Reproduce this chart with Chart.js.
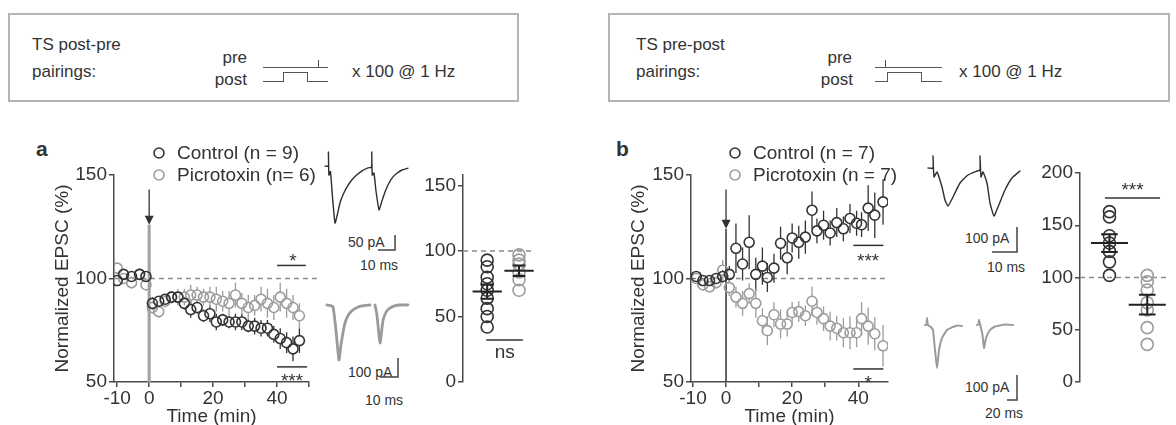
<!DOCTYPE html>
<html>
<head>
<meta charset="utf-8">
<title>TS pairings</title>
<script src="https://cdn.jsdelivr.net/npm/chart.js@4.4.1/dist/chart.umd.min.js"></script>
<style>
body { margin: 0; background: #fff; }
#fig { position: relative; width: 1176px; height: 425px; overflow: hidden; font-family: "Liberation Sans", Arial, sans-serif; color: #333; }
#fig div, #fig canvas { position: absolute; }
.box { border: 2px solid #b4b4b4; box-sizing: border-box; }
.t17 { font-size: 17px; line-height: 20px; white-space: nowrap; }
.t14 { font-size: 14px; line-height: 16px; white-space: nowrap; }
.r { text-align: right; }
.h { height: 0; border-top: 1.5px solid #555; }
.v { width: 0; border-left: 1.5px solid #555; }
.p { border: 1.5px solid #555; border-bottom: none; box-sizing: border-box; }
.lab { font-size: 21px; font-weight: bold; line-height: 24px; }
</style>
</head>
<body>
<div id="fig">
  <!-- pairing protocol boxes -->
  <div class="box" style="left:8px;top:13px;width:511px;height:89px"></div>
  <div class="t17" style="left:32px;top:35px">TS post-pre</div>
  <div class="t17" style="left:32px;top:62px">pairings:</div>
  <div class="t17 r" style="left:197px;top:48px;width:50px">pre</div>
  <div class="t17 r" style="left:197px;top:70px;width:50px">post</div>
  <div class="h" style="left:263px;top:67px;width:65px"></div>
  <div class="v" style="left:318px;top:60px;height:8px"></div>
  <div class="h" style="left:263px;top:81px;width:21px"></div>
  <div class="p" style="left:283px;top:72px;width:25px;height:10px"></div>
  <div class="h" style="left:307px;top:81px;width:21px"></div>
  <div class="t17" style="left:352px;top:62px">x 100 @ 1 Hz</div>

  <div class="box" style="left:608px;top:13px;width:562px;height:89px"></div>
  <div class="t17" style="left:636px;top:35px">TS pre-post</div>
  <div class="t17" style="left:636px;top:62px">pairings:</div>
  <div class="t17 r" style="left:802px;top:48px;width:50px">pre</div>
  <div class="t17 r" style="left:803px;top:70px;width:50px">post</div>
  <div class="h" style="left:875px;top:67px;width:67px"></div>
  <div class="v" style="left:885px;top:60px;height:8px"></div>
  <div class="h" style="left:875px;top:81px;width:13px"></div>
  <div class="p" style="left:887px;top:72px;width:35px;height:10px"></div>
  <div class="h" style="left:921px;top:81px;width:21px"></div>
  <div class="t17" style="left:959px;top:62px">x 100 @ 1 Hz</div>

  <div class="lab" style="left:36px;top:137px">a</div>
  <div class="lab" style="left:616px;top:137px">b</div>

  <!-- scale bar labels -->
  <div class="t14" style="left:348px;top:234px">50 pA</div>
  <div class="t14" style="left:360px;top:257px">10 ms</div>
  <div class="t14" style="left:348px;top:364px">100 pA</div>
  <div class="t14" style="left:365px;top:392px">10 ms</div>
  <div class="t14" style="left:965px;top:230px">100 pA</div>
  <div class="t14" style="left:987px;top:259px">10 ms</div>
  <div class="t14" style="left:965px;top:379px">100 pA</div>
  <div class="t14" style="left:985px;top:405px">20 ms</div>

  <canvas id="cA" width="330" height="315" style="left:0;top:110px"></canvas>
  <canvas id="sA" width="140" height="315" style="left:400px;top:110px"></canvas>
  <canvas id="cB" width="300" height="315" style="left:600px;top:110px"></canvas>
  <canvas id="sB" width="156" height="315" style="left:1020px;top:110px"></canvas>
  <canvas id="tA1" width="100" height="115" style="left:318px;top:140px"></canvas>
  <canvas id="tA2" width="100" height="92" style="left:318px;top:290px"></canvas>
  <canvas id="tB1" width="110" height="117" style="left:920px;top:140px"></canvas>
  <canvas id="tB2" width="115" height="105" style="left:915px;top:300px"></canvas>
</div>

<script>
const DARK = '#333333', LIGHT = '#9c9c9c', AXIS = '#4a4a4a';

// panel a, post-pre pairings (min, % of baseline)
const timeA = [-10, -8, -5.5, -3, -1, 1, 3, 5, 7, 9, 11, 13, 15, 17, 19, 21, 23, 25, 27, 29, 31, 33, 35, 37, 39, 41, 43, 45, 47];
const ctrlA = [99, 102, 101, 102, 101, 88, 89, 90, 91, 91, 88, 85, 86, 82, 83, 79, 80, 79, 79, 79, 77, 77, 76, 76, 73, 71, 69, 66, 70];
const ctrlAErr = [2, 2, 2, 2, 2, 3, 2, 2, 3, 3, 3, 4, 3, 3, 4, 4, 3, 3, 4, 4, 3, 4, 4, 4, 4, 5, 5, 6, 6];
const picA = [105, 100, 98, 102, 97, 86, 84, 89, 91, 91, 91, 92, 92, 91, 91, 90, 89, 88, 92, 88, 86, 87, 90, 88, 86, 91, 88, 86, 82];
const picAErr = [2, 2, 3, 2, 3, 3, 3, 3, 3, 4, 4, 5, 4, 4, 5, 6, 5, 6, 6, 5, 6, 5, 6, 7, 6, 7, 7, 6, 6];

// panel b, pre-post pairings
const timeB = [-9, -7, -5, -3, -1, 1, 3, 5, 7, 9, 11, 12.5, 14.5, 16.5, 18.5, 20, 22, 24, 26, 27.5, 29.5, 31.5, 33.5, 35.5, 37.5, 39.5, 41, 43, 45, 47.5];
const ctrlB = [101, 99, 99, 100, 101, 102, 114.6, 107, 117.5, 102, 106, 100.5, 105, 117, 110, 119.6, 117.5, 120, 133, 123, 125.7, 122, 127, 124, 129, 126.7, 126, 134, 130.6, 137];
const ctrlBErr = [2, 2, 2, 2, 3, 4, 12, 8, 13, 8, 9, 7, 7, 8, 8, 7, 8, 8, 9, 6, 7, 6, 7, 6, 7, 6, 6, 11, 11, 11];
const picB = [100, 97, 96, 98, 104, 95.6, 91, 88, 92.7, 88, 79.6, 74.8, 82.5, 78, 78, 83.6, 84, 82, 89, 83.6, 80.6, 77, 76, 73.8, 73.8, 73.8, 80.6, 77, 73.3, 67.5];
const picBErr = [2, 3, 2, 3, 5, 4, 5, 6, 5, 7, 6, 7, 6, 7, 6, 5, 5, 5, 7, 6, 6, 7, 6, 7, 8, 7, 8, 9, 8, 10];

// summary cells (% at 40-50 min)
const groupX = [1, 2];
const cellsA_ctrl = [93, 88, 80, 75, 70, 64, 56, 50, 42];
const cellsA_pic = [97, 93, 90, 84, 78, 70];
const meanA = [69, 85];
const semA = [5.5, 4];
const cellsB_ctrl = [163, 158, 140, 133, 125, 115, 102];
const cellsB_pic = [102, 96, 88, 76, 69, 52, 36];
const meanB = [133, 74];
const semB = [8.5, 9.5];

// example EPSC traces (ms, pA)
const traceA1 = [[0,3],[2,3],[2,50],[2.3,-27],[3.2,-15],[4.4,-100],[5.9,-187],[7.2,-160],[8.8,-120],[10.8,-90],[12.9,-67],[15.5,-45],[18.6,-27],[22,-12],[25.3,-3],[27.4,0],[27.5,50],[27.8,-27],[28.8,-20],[30,-80],[31.8,-143],[33.4,-115],[35.3,-83],[37.5,-55],[40,-33],[42.5,-20],[45.3,-10],[48.8,-4]];
const traceA2 = [[-0.6,0],[1.5,-3],[2.8,-10],[4.4,-130],[6.1,-290],[7.2,-210],[9.4,-95],[11.5,-50],[13.9,-26],[16.5,-12],[18.9,-5],[23.3,0],[24.5,null],[26.1,0],[27.2,-53],[28.9,-200],[30.6,-79],[32.4,-35],[34.4,-16],[37,-5],[40,0],[44.4,0]];
const traceB1 = [[0,8],[2,8],[2,56],[2.4,-28],[3.6,-8],[5.6,-68],[6.8,-120],[8,-144],[10,-108],[12.8,-52],[16,-20],[19.6,-4],[20.8,0],[20.8,56],[21.2,-28],[22,-8],[23.6,-52],[24.8,-132],[26.4,-184],[28,-148],[30.8,-80],[33.6,-32],[36.8,-4]];
const traceB2 = [[0,0],[3,0],[4,28],[6,0],[12,-8],[16,-20],[20,-100],[24,-172],[28,-100],[34,-52],[44,-20],[56,-8],[64,-2],[74,-4],[89,null],[104,0],[107,2],[108,20],[111,-4],[115,-40],[118,-92],[122,-52],[130,-20],[140,-6],[146,-4],[160,2],[176,0]];

Chart.defaults.font.family = '"Liberation Sans", Arial, sans-serif';
Chart.defaults.font.size = 19;
Chart.defaults.color = '#333';
Chart.defaults.animation = false;
Chart.defaults.responsive = false;
Chart.defaults.plugins.legend.display = false;
Chart.defaults.plugins.tooltip.enabled = false;

function axisY(min, max, step, width, title) {
  return {
    type: 'linear', min: min, max: max,
    afterFit: s => { s.width = width; },
    title: { display: !!title, text: title, padding: { top: 4, bottom: 0 } },
    ticks: { stepSize: step, includeBounds: false, padding: 2 },
    grid: { drawOnChartArea: false, tickLength: 5, color: AXIS, lineWidth: 1.5 },
    border: { color: AXIS, width: 1.5 }
  };
}

function axisTime(min, max) {
  return {
    type: 'linear', min: min, max: max,
    afterFit: s => { s.height = 43; },
    title: { display: true, text: 'Time (min)', padding: { top: 0, bottom: -3 } },
    ticks: { stepSize: 10, includeBounds: false, padding: 0, maxRotation: 0, autoSkip: false,
      callback: v => ([-10, 0, 20, 40].includes(v) ? String(v) : '') },
    grid: { drawOnChartArea: false, tickLength: 5, color: AXIS, lineWidth: 1.5 },
    border: { color: AXIS, width: 1.5 }
  };
}

function series(label, xs, ys, errs, color, r) {
  return {
    label: label,
    data: xs.map((x, i) => ({ x: x, y: ys[i] })),
    errors: errs,
    borderColor: color,
    backgroundColor: 'rgba(255,255,255,0)',
    pointRadius: r,
    pointBorderWidth: 1.6,
    pointBorderColor: color,
    pointBackgroundColor: 'rgba(255,255,255,0)'
  };
}

function cells(values, gx, color) {
  return series('', values.map(() => gx), values, null, color, 6);
}

// reference line, pairing arrow, error bars, means, significance marks, legend
function extras(cfg) {
  return {
    id: 'extras',
    beforeDatasetsDraw(chart) {
      const ctx = chart.ctx, xs = chart.scales.x, ys = chart.scales.y;
      ctx.save();
      if (cfg.ref) {
        const py = ys.getPixelForValue(cfg.ref.y);
        ctx.strokeStyle = '#8a8a8a'; ctx.lineWidth = 1.5; ctx.setLineDash([5, 4]);
        ctx.beginPath();
        ctx.moveTo(xs.getPixelForValue(cfg.ref.x0), py);
        ctx.lineTo(xs.getPixelForValue(cfg.ref.x1), py);
        ctx.stroke();
        ctx.setLineDash([]);
      }
      if (cfg.arrow) {
        const a = cfg.arrow, px = xs.getPixelForValue(a.x);
        const top = ys.getPixelForValue(a.top), tip = ys.getPixelForValue(a.tip);
        ctx.strokeStyle = a.barColor; ctx.lineWidth = a.barWidth;
        ctx.beginPath(); ctx.moveTo(px, tip); ctx.lineTo(px, chart.chartArea.bottom); ctx.stroke();
        ctx.strokeStyle = DARK; ctx.lineWidth = 1.3;
        ctx.beginPath(); ctx.moveTo(px, top); ctx.lineTo(px, tip - 8); ctx.stroke();
        ctx.fillStyle = DARK;
        ctx.beginPath(); ctx.moveTo(px - 4.5, tip - 9); ctx.lineTo(px + 4.5, tip - 9); ctx.lineTo(px, tip); ctx.closePath(); ctx.fill();
      }
      chart.data.datasets.forEach(ds => {
        if (!ds.errors) return;
        const r = ds.pointRadius;
        ctx.strokeStyle = ds.borderColor; ctx.lineWidth = 1.3;
        ds.data.forEach((p, j) => {
          const px = xs.getPixelForValue(p.x), py = ys.getPixelForValue(p.y);
          const hi = ys.getPixelForValue(p.y + ds.errors[j]), lo = ys.getPixelForValue(p.y - ds.errors[j]);
          ctx.beginPath();
          if (py - hi > r) { ctx.moveTo(px, hi); ctx.lineTo(px, py - r); }
          if (lo - py > r) { ctx.moveTo(px, py + r); ctx.lineTo(px, lo); }
          ctx.stroke();
        });
      });
      ctx.restore();
    },
    afterDatasetsDraw(chart) {
      const ctx = chart.ctx, xs = chart.scales.x, ys = chart.scales.y;
      ctx.save();
      (cfg.means || []).forEach(m => {
        const px = xs.getPixelForValue(m.x), py = ys.getPixelForValue(m.mean);
        const w = xs.getPixelForValue(m.x + m.half) - px, c = xs.getPixelForValue(m.x + m.cap) - px;
        const hi = ys.getPixelForValue(m.mean + m.sem), lo = ys.getPixelForValue(m.mean - m.sem);
        ctx.strokeStyle = '#222'; ctx.lineWidth = 2;
        ctx.beginPath();
        ctx.moveTo(px - w, py); ctx.lineTo(px + w, py);
        ctx.moveTo(px, hi); ctx.lineTo(px, lo);
        ctx.moveTo(px - c, hi); ctx.lineTo(px + c, hi);
        ctx.moveTo(px - c, lo); ctx.lineTo(px + c, lo);
        ctx.stroke();
      });
      (cfg.sig || []).forEach(s => {
        const py = ys.getPixelForValue(s.y);
        ctx.strokeStyle = DARK; ctx.lineWidth = 1.5;
        ctx.beginPath(); ctx.moveTo(xs.getPixelForValue(s.x0), py); ctx.lineTo(xs.getPixelForValue(s.x1), py); ctx.stroke();
        ctx.fillStyle = DARK; ctx.font = '19px "Liberation Sans", Arial, sans-serif'; ctx.textAlign = 'center';
        const tx = xs.getPixelForValue(s.tx), ty = ys.getPixelForValue(s.ty);
        if (s.text.indexOf('*') >= 0) { ctx.textBaseline = 'alphabetic'; ctx.fillText(s.text, tx, ty + 11); }
        else { ctx.textBaseline = 'middle'; ctx.fillText(s.text, tx, ty); }
      });
      if (cfg.legend) {
        chart.data.datasets.forEach((ds, i) => {
          const cx = cfg.legend.x, cy = cfg.legend.y + i * 22;
          ctx.strokeStyle = ds.borderColor; ctx.lineWidth = 1.6;
          ctx.beginPath(); ctx.arc(cx, cy, 5, 0, Math.PI * 2); ctx.stroke();
          ctx.fillStyle = '#333'; ctx.font = '19px "Liberation Sans", Arial, sans-serif';
          ctx.textAlign = 'left'; ctx.textBaseline = 'middle';
          ctx.fillText(ds.label, cx + 18, cy + 1);
        });
      }
      ctx.restore();
    }
  };
}

// time courses
new Chart(document.getElementById('cA'), {
  type: 'scatter',
  data: { datasets: [
    series('Control (n = 9)', timeA, ctrlA, ctrlAErr, DARK, 5),
    series('Picrotoxin (n= 6)', timeA, picA, picAErr, LIGHT, 5)
  ] },
  options: {
    layout: { padding: { left: 47, right: 21, top: 65, bottom: 0 } },
    scales: { x: axisTime(-11, 50), y: axisY(50, 150, 50, 67, 'Normalized EPSC (%)') }
  },
  plugins: [extras({
    ref: { y: 100, x0: -11, x1: 53 },
    arrow: { x: 0, top: 143, tip: 126, barColor: '#a0a0a0', barWidth: 3 },
    sig: [
      { x0: 40, x1: 49, y: 106.3, text: '*', tx: 45, ty: 110.7 },
      { x0: 40, x1: 49.4, y: 57.3, text: '***', tx: 44.7, ty: 52.9 }
    ],
    legend: { x: 159, y: 43 }
  })]
});

new Chart(document.getElementById('cB'), {
  type: 'scatter',
  data: { datasets: [
    series('Control (n = 7)', timeB, ctrlB, ctrlBErr, DARK, 5),
    series('Picrotoxin (n = 7)', timeB, picB, picBErr, LIGHT, 5)
  ] },
  options: {
    layout: { padding: { left: 23, right: 12, top: 65, bottom: 0 } },
    scales: { x: axisTime(-10.6, 49), y: axisY(50, 150, 50, 68, 'Normalized EPSC (%)') }
  },
  plugins: [extras({
    ref: { y: 100, x0: -10.6, x1: 49 },
    arrow: { x: 0, top: 143, tip: 124, barColor: DARK, barWidth: 1.5 },
    sig: [
      { x0: 38.5, x1: 47.6, y: 116, text: '***', tx: 43, ty: 111 },
      { x0: 38.5, x1: 47.6, y: 56.3, text: '*', tx: 43, ty: 52 }
    ],
    legend: { x: 135, y: 43 }
  })]
});

// per-cell summaries
new Chart(document.getElementById('sA'), {
  type: 'scatter',
  data: { datasets: [cells(cellsA_ctrl, groupX[0], DARK), cells(cellsA_pic, groupX[1], LIGHT)] },
  options: {
    layout: { padding: { left: 10, right: 5, top: 65, bottom: 43 } },
    scales: { x: { type: 'linear', display: false, min: 0.24, max: 2.42 }, y: axisY(0, 158, 50, 53, '') }
  },
  plugins: [extras({
    ref: { y: 100, x0: 0.24, x1: 2.42 },
    means: groupX.map((x, i) => ({ x: x, mean: meanA[i], sem: semA[i], half: 0.46, cap: 0.2 })),
    sig: [{ x0: 0.97, x1: 2.12, y: 32, text: 'ns', tx: 1.55, ty: 22 }]
  })]
});

new Chart(document.getElementById('sB'), {
  type: 'scatter',
  data: { datasets: [cells(cellsB_ctrl, groupX[0], DARK), cells(cellsB_pic, groupX[1], LIGHT)] },
  options: {
    layout: { padding: { left: 5, right: 0, top: 63, bottom: 43 } },
    scales: { x: { type: 'linear', display: false, min: 0.22, max: 2.56 }, y: axisY(0, 200, 50, 55, '') }
  },
  plugins: [extras({
    ref: { y: 100, x0: 0.22, x1: 2.56 },
    means: groupX.map((x, i) => ({ x: x, mean: meanB[i], sem: semB[i], half: 0.49, cap: 0.22 })),
    sig: [{ x0: 0.88, x1: 2.34, y: 176, text: '***', tx: 1.61, ty: 188.5 }]
  })]
});

// example traces with their scale bars
function scaleBar(b) {
  return {
    id: 'scaleBar',
    afterDatasetsDraw(chart) {
      const ctx = chart.ctx, xs = chart.scales.x, ys = chart.scales.y;
      const x1 = xs.getPixelForValue(b.ms), y1 = ys.getPixelForValue(b.pa);
      const x0 = xs.getPixelForValue(b.ms - b.dMs), y0 = ys.getPixelForValue(b.pa + b.dPa);
      ctx.save();
      ctx.strokeStyle = '#444'; ctx.lineWidth = 1.5;
      ctx.beginPath(); ctx.moveTo(x1, y0); ctx.lineTo(x1, y1); ctx.lineTo(x0, y1); ctx.stroke();
      ctx.restore();
    }
  };
}

function trace(id, pts, color, width, t) {
  const cv = document.getElementById(id);
  const L = parseFloat(cv.style.left), T = parseFloat(cv.style.top);
  new Chart(cv, {
    type: 'line',
    data: { datasets: [{
      data: pts.map(p => ({ x: p[0], y: p[1] })),
      borderColor: color, borderWidth: width, pointRadius: 0, tension: 0.15, spanGaps: false,
      borderJoinStyle: 'round', borderCapStyle: 'round'
    }] },
    options: {
      layout: { padding: 0 },
      scales: {
        x: { type: 'linear', display: false, min: (L - t.ox) / t.kx, max: (L + cv.width - t.ox) / t.kx },
        y: { type: 'linear', display: false, min: (t.oy - (T + cv.height)) / t.ky, max: (t.oy - T) / t.ky }
      }
    },
    plugins: [scaleBar(t.bar)]
  });
}

trace('tA1', traceA1, '#2e2e2e', 1.4, { ox: 325, oy: 167, kx: 1.7, ky: 0.3, bar: { ms: 41.2, pa: -276.7, dMs: 10, dPa: 50 } });
trace('tA2', traceA2, '#9a9a9a', 2.8, { ox: 328, oy: 305, kx: 1.8, ky: 0.19, bar: { ms: 38.9, pa: -378.9, dMs: 10, dPa: 100 } });
trace('tB1', traceB1, '#2e2e2e', 1.4, { ox: 928, oy: 170, kx: 2.5, ky: 0.25, bar: { ms: 35.6, pa: -328, dMs: 10, dPa: 100 } });
trace('tB2', traceB2, '#9a9a9a', 2, { ox: 925, oy: 325, kx: 0.5, ky: 0.25, bar: { ms: 184, pa: -300, dMs: 20, dPa: 100 } });
</script>
</body>
</html>
